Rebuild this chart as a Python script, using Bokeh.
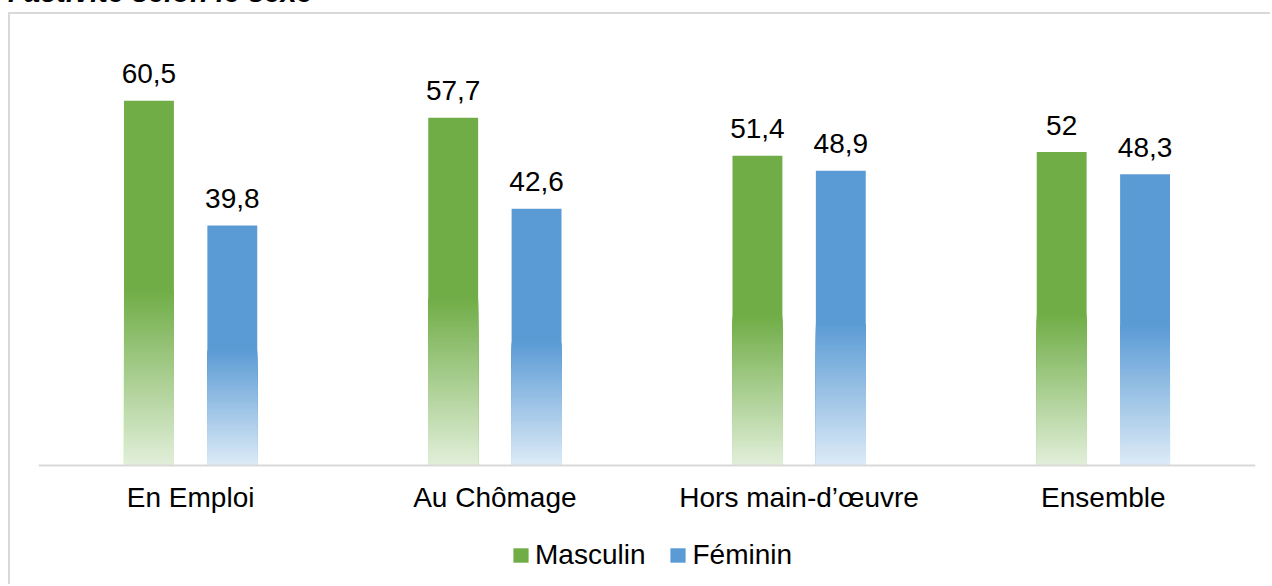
from bokeh.plotting import figure
from bokeh.models import ColumnDataSource, FactorRange, Legend, LegendItem, Div
from bokeh.layouts import column
from bokeh.transform import dodge
from bokeh.core.properties import value
from bokeh.embed import file_html
from bokeh.resources import INLINE

# ---- data ----
categories = ["En Emploi", "Au Chômage", "Hors main-d’œuvre", "Ensemble"]
masculin = [60.5, 57.7, 51.4, 52.0]
feminin = [39.8, 42.6, 48.9, 48.3]
series_names = ["Masculin", "Féminin"]
title_text = "l’activité selon le sexe"

FONT = "Liberation Sans"
GREEN, GREEN_LIGHT = "#70AD47", "#E2EFDA"
BLUE, BLUE_LIGHT = "#5B9BD5", "#DDEBF7"


def fmt(v):
    s = f"{v:.1f}".replace(".", ",")
    return s[:-2] if s.endswith(",0") else s


def hex2rgb(h):
    h = h.lstrip("#")
    return tuple(int(h[i:i + 2], 16) for i in (0, 2, 4))


def mix(c_light, c_solid, t):
    a, b = hex2rgb(c_light), hex2rgb(c_solid)
    return "#%02x%02x%02x" % tuple(round(a[i] + (b[i] - a[i]) * t) for i in range(3))


def gradient_source(vals, solid, light, n=60, stop=0.48):
    cats, tops, cols = [], [], []
    for c, v in zip(categories, vals):
        cats.append(c); tops.append(v); cols.append(solid)
    for k in range(n, 0, -1):
        f = stop * k / n
        col = mix(light, solid, (k - 0.5) / n)
        for c, v in zip(categories, vals):
            cats.append(c); tops.append(v * f); cols.append(col)
    return ColumnDataSource(dict(cat=cats, top=tops, color=cols))


p = figure(
    x_range=FactorRange(factors=categories, range_padding=0),
    y_range=(-20.07, 70),
    width=1262, height=572,
    output_backend="svg", toolbar_location=None,
    y_axis_location=None,
    min_border_left=28, min_border_right=17, min_border_top=29, min_border_bottom=0,
    outline_line_color=None,
    background_fill_color="white", border_fill_color="white",
    margin=(0, 0, 0, 8),
    styles={"border-top": "2px solid #d9d9d9", "border-left": "2px solid #d9d9d9"},
)
p.grid.visible = False

BW = 0.164
OFF = 0.137
renderers = []
for vals, off, solid, light in [(masculin, -OFF, GREEN, GREEN_LIGHT), (feminin, OFF, BLUE, BLUE_LIGHT)]:
    src = gradient_source(vals, solid, light)
    r = p.vbar(x=dodge("cat", off, range=p.x_range), top="top", bottom=0, width=BW,
               fill_color="color", line_color=None, source=src)
    renderers.append(r)
    lab = ColumnDataSource(dict(cat=categories, val=vals, label=[fmt(v) for v in vals]))
    p.text(x=dodge("cat", off, range=p.x_range), y="val", text="label", source=lab,
           text_align="center", text_baseline="middle", y_offset=-27,
           text_font=value(FONT), text_font_size="28px", text_color="#000000")

ax = p.xaxis[0]
ax.fixed_location = 0
ax.axis_line_color = "#d9d9d9"
ax.axis_line_width = 2
ax.major_tick_line_color = None
ax.minor_tick_line_color = None
ax.major_label_standoff = 10
ax.major_label_text_font = FONT
ax.major_label_text_font_size = "28px"
ax.major_label_text_color = "#000000"

legend = Legend(
    items=[LegendItem(label=series_names[0], renderers=[renderers[0]], index=0),
           LegendItem(label=series_names[1], renderers=[renderers[1]], index=0)],
    orientation="horizontal", location=(473, 15),
    label_text_font=FONT, label_text_font_size="28px", label_text_color="#000000",
    glyph_width=19, glyph_height=18, label_standoff=5, spacing=23,
    padding=0, margin=0, border_line_color=None, background_fill_alpha=0,
)
p.add_layout(legend)

title = Div(
    text=f'<div style="font: italic bold 29px \'{FONT}\'; line-height: 28px; white-space: nowrap; color: #000; margin: 0; padding: 0;">{title_text}</div>',
    width=600, height=28, margin=(-22, 0, 6, 8),
)

layout = column(title, p, spacing=0)
open("out.html", "w").write(file_html(layout, INLINE))
